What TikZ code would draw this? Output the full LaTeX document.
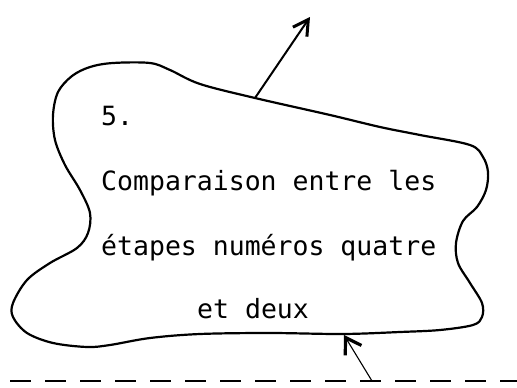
\documentclass[tikz,border=0pt]{standalone}
\usepackage{fontspec}
\newfontfamily\tw{DejaVu Sans Mono}
\usetikzlibrary{arrows.meta}
\begin{document}
\begin{tikzpicture}[x=1pt,y=-1pt,
  blobline/.style={line width=2.2pt, line join=round},
  txt/.style={anchor=base west, inner sep=0pt, font=\tw\fontsize{26.5}{30}\selectfont},
  dashline/.style={line width=2.2pt, dash pattern=on 21pt off 14pt},
  handarrow/.style={line width=2pt, -{Straight Barb[length=15pt,width=17pt,line width=3pt]}},
  thinarrow/.style={line width=1.1pt, -{Straight Barb[length=15pt,width=19pt,line width=3.2pt]}}]
\useasboundingbox (0,0) rectangle (517,388);
% blob outline
\draw[blobline] plot[smooth cycle, tension=0.55] coordinates {
 (113,63) (150,63) (170,70) (200,84) (255,98) (330,115) (380,127) (420,135)
 (470,145) (483,157) (488,172) (486,190) (477,207) (463,221) (456,243) (458,263)
 (470,283) (482,303) (482,317) (473,325) (440,330) (400,332) (343,334) (270,333)
 (200,334) (150,338) (110,345) (87,347) (53,343) (27,333) (13,317) (13,303)
 (27,280) (50,263) (77,248) (88,233) (90,213) (80,190) (65,165) (55,140)
 (53,115) (58,92) (72,76) (90,67)};
% texts
\node[txt] (n5) at (101,125) {5.};
\node[txt] (l1) at (101,190) {Comparaison entre les};
\node[txt] (l2) at (101,255) {étapes numéros quatre};
\node[txt] (l3) at (197,318) {et deux};
% connectors
\coordinate (blobtop) at (255,98);
\coordinate (toptip) at (310,17);
\coordinate (blobbot) at (344,335);
\coordinate (dashpt) at (372,381);
\coordinate (dl) at (10,381);
\coordinate (dr) at (517,381);
\draw[dashline] (dl) -- (dr);
\draw[handarrow] (blobtop) -- (toptip);
\draw[thinarrow] (dashpt) -- (blobbot);
\end{tikzpicture}
\end{document}
